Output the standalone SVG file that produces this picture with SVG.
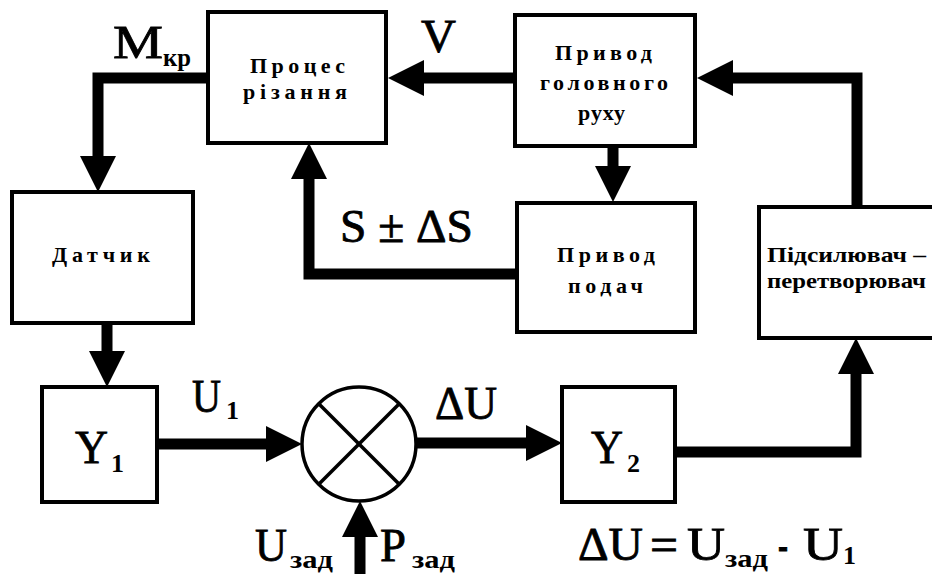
<svg xmlns="http://www.w3.org/2000/svg" width="932" height="574" viewBox="0 0 932 574">
<style>
.box{fill:#fff;stroke:#000;stroke-width:4}
.bt{font-family:'Liberation Serif','DejaVu Serif',serif;font-weight:bold;font-size:22px;fill:#000}
.lb{font-family:'Liberation Serif','DejaVu Serif',serif;font-size:46px;fill:#000;stroke:#000;stroke-width:0.8}
.sb{font-family:'Liberation Serif','DejaVu Serif',serif;font-weight:bold;font-size:26px;fill:#000}
.con{fill:none;stroke:#000;stroke-width:11;stroke-linecap:round;stroke-linejoin:miter}
</style>
<defs>
<marker id="arr" markerUnits="userSpaceOnUse" viewBox="0 -18 36 36" markerWidth="36" markerHeight="36" refX="0" refY="0" orient="auto">
<path d="M0,-18 L36,0 L0,18 z" fill="#000"/>
</marker>
</defs>
<rect x="0" y="0" width="932" height="574" fill="#fff"/>

<g id="connectors">
<path class="con" d="M208,78 H98 V156" marker-end="url(#arr)"/>
<path class="con" d="M107,323 V351" marker-end="url(#arr)"/>
<path class="con" d="M157,444 H266" marker-end="url(#arr)"/>
<path class="con" d="M416,443 H526" marker-end="url(#arr)"/>
<path class="con" d="M675,452 H856 V374" marker-end="url(#arr)"/>
<path class="con" d="M857,207 V78 H733" marker-end="url(#arr)"/>
<path class="con" d="M515,78 H424" marker-end="url(#arr)"/>
<path class="con" d="M613,146 V166" marker-end="url(#arr)"/>
<path class="con" d="M517,274 H309 V179" marker-end="url(#arr)"/>
<path class="con" d="M360,585 V537" marker-end="url(#arr)"/>
</g>

<g id="process">
<rect class="box" x="208" y="12" width="178" height="131"/>
<text class="bt" x="250" y="73" textLength="95">Процес</text>
<text class="bt" x="243" y="99" textLength="104">різання</text>
</g>

<g id="main-drive">
<rect class="box" x="515" y="15" width="180" height="131"/>
<text class="bt" x="555" y="60" textLength="97">Привод</text>
<text class="bt" x="540" y="90" textLength="128">головного</text>
<text class="bt" x="578" y="120" textLength="47">руху</text>
</g>

<g id="sensor">
<rect class="box" x="12" y="192" width="181" height="131"/>
<text class="bt" x="52" y="262" textLength="98">Датчик</text>
</g>

<g id="feed-drive">
<rect class="box" x="517" y="203" width="178" height="129"/>
<text class="bt" x="557" y="262" textLength="98">Привод</text>
<text class="bt" x="568" y="293" textLength="75">подач</text>
</g>

<g id="amplifier">
<rect class="box" x="759" y="207" width="190" height="131"/>
<text class="bt" x="767" y="262" textLength="159" lengthAdjust="spacingAndGlyphs">Підсилювач –</text>
<text class="bt" x="767" y="288" textLength="159" lengthAdjust="spacingAndGlyphs">перетворювач</text>
</g>

<g id="y1">
<rect class="box" x="42" y="387" width="115" height="115"/>
<text class="lb" x="75" y="463" textLength="33" lengthAdjust="spacingAndGlyphs">Y</text>
<text class="sb" x="111" y="472" font-size="30">1</text>
</g>

<g id="y2">
<rect class="box" x="562" y="387" width="113" height="115"/>
<text class="lb" x="591" y="463" textLength="32" lengthAdjust="spacingAndGlyphs">Y</text>
<text class="sb" x="627" y="472" font-size="30" font-weight="normal">2</text>
</g>

<g id="comparator">
<circle cx="359" cy="444" r="57" fill="#fff" stroke="#000" stroke-width="3.5"/>
<line x1="319" y1="404" x2="399" y2="484" stroke="#000" stroke-width="3.5"/>
<line x1="399" y1="404" x2="319" y2="484" stroke="#000" stroke-width="3.5"/>
</g>

<g id="labels">
<text class="lb" x="113" y="58" textLength="50" lengthAdjust="spacingAndGlyphs">M</text>
<text class="sb" x="163" y="66" textLength="28" lengthAdjust="spacingAndGlyphs">кр</text>
<text class="lb" x="421" y="52" textLength="35" lengthAdjust="spacingAndGlyphs">V</text>
<text class="lb" x="340" y="242" textLength="133" lengthAdjust="spacingAndGlyphs">S ± ΔS</text>
<text class="lb" x="192" y="412" textLength="29" lengthAdjust="spacingAndGlyphs">U</text>
<text class="sb" x="226" y="419" font-size="28">1</text>
<text class="lb" x="435" y="419" textLength="62" lengthAdjust="spacingAndGlyphs">ΔU</text>
<text class="lb" x="255" y="561" textLength="32" lengthAdjust="spacingAndGlyphs">U</text>
<text class="sb" x="290" y="568" textLength="43" lengthAdjust="spacingAndGlyphs">зад</text>
<text class="lb" x="380" y="561" textLength="26" lengthAdjust="spacingAndGlyphs">P</text>
<text class="sb" x="412" y="568" textLength="43" lengthAdjust="spacingAndGlyphs">зад</text>
<text class="lb" x="578" y="560" textLength="65" lengthAdjust="spacingAndGlyphs">ΔU</text>
<text class="lb" x="650" y="560" textLength="28" lengthAdjust="spacingAndGlyphs">=</text>
<text class="lb" x="687" y="560" textLength="38" lengthAdjust="spacingAndGlyphs">U</text>
<text class="sb" x="725" y="567" textLength="43" lengthAdjust="spacingAndGlyphs">зад</text>
<text class="lb" x="778" y="560" textLength="10" lengthAdjust="spacingAndGlyphs">-</text>
<text class="lb" x="803" y="560" textLength="40" lengthAdjust="spacingAndGlyphs">U</text>
<text class="sb" x="843" y="564" font-size="28">1</text>
</g>
</svg>
